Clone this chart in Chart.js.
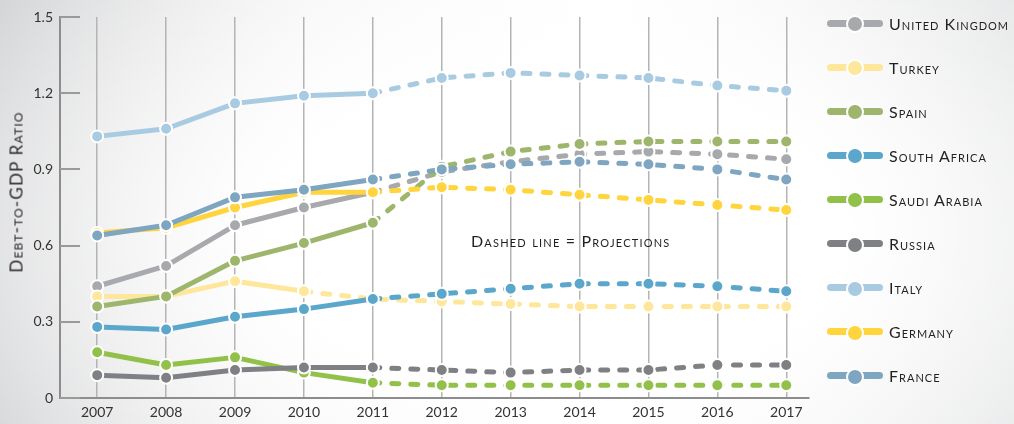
<!DOCTYPE html>
<html>
<head>
<meta charset="utf-8">
<script src="https://cdn.jsdelivr.net/npm/chart.js@4.4.0/dist/chart.umd.min.js"></script>
<style>
  html, body { margin: 0; padding: 0; }
  body {
    width: 1014px; height: 424px; overflow: hidden; position: relative;
    font-family: Lato, "Open Sans", sans-serif;
    background:
      radial-gradient(ellipse 70% 90% at 55% 55%, #ffffff 40%, rgba(255,255,255,0) 100%),
      linear-gradient(90deg, #d4d5d7 0%, #f2f2f2 30%, #ffffff 60%, #e2e3e4 100%);
  }
  #chart { position: absolute; left: 0; top: 0; }
  #legend { position: absolute; left: 827px; top: 0; width: 190px; height: 424px; }
  .item { position: absolute; left: 0; height: 20px; display: flex; align-items: center; white-space: nowrap; }
  .sym { position: relative; width: 56px; height: 20px; flex: none; }
  .sym .bar { position: absolute; left: 0; top: 6.5px; width: 56px; height: 7px; border-radius: 4px; }
  .sym .dot { position: absolute; left: 19px; top: 2px; width: 14px; height: 14px; border-radius: 50%; border: 2px solid #fff; }
  .item .txt { margin-left: 6px; font-size: 16px; font-variant: small-caps; letter-spacing: 1px; color: #231f20; }
  #note { position: absolute; left: 471px; top: 231px; font-size: 16px; font-variant: small-caps; letter-spacing: 1.2px; color: #231f20; white-space: nowrap; }
  #ytitle { position: absolute; left: 16px; top: 192px; transform: translate(-50%, -50%) rotate(-90deg);
            font-size: 17px; font-variant: small-caps; letter-spacing: 1.2px; color: #2b2829; white-space: nowrap; }
</style>
</head>
<body>
<canvas id="chart" width="1014" height="424"></canvas>
<div id="ytitle">Debt-to-GDP Ratio</div>
<div id="note">Dashed line = Projections</div>
<div id="legend"></div>
<script>
'use strict';

// years on the x axis
const years = [2007, 2008, 2009, 2010, 2011, 2012, 2013, 2014, 2015, 2016, 2017];

// debt-to-GDP ratio per country
const unitedKingdom = [0.44, 0.52, 0.68, 0.75, 0.81, 0.89, 0.93, 0.96, 0.97, 0.96, 0.94];
const turkey        = [0.40, 0.40, 0.46, 0.42, 0.39, 0.38, 0.37, 0.36, 0.36, 0.36, 0.36];
const spain         = [0.36, 0.40, 0.54, 0.61, 0.69, 0.91, 0.97, 1.00, 1.01, 1.01, 1.01];
const southAfrica   = [0.28, 0.27, 0.32, 0.35, 0.39, 0.41, 0.43, 0.45, 0.45, 0.44, 0.42];
const saudiArabia   = [0.18, 0.13, 0.16, 0.10, 0.06, 0.05, 0.05, 0.05, 0.05, 0.05, 0.05];
const russia        = [0.09, 0.08, 0.11, 0.12, 0.12, 0.11, 0.10, 0.11, 0.11, 0.13, 0.13];
const italy         = [1.03, 1.06, 1.16, 1.19, 1.20, 1.26, 1.28, 1.27, 1.26, 1.23, 1.21];
const germany       = [0.65, 0.67, 0.75, 0.81, 0.81, 0.83, 0.82, 0.80, 0.78, 0.76, 0.74];
const france        = [0.64, 0.68, 0.79, 0.82, 0.86, 0.90, 0.92, 0.93, 0.92, 0.90, 0.86];

const countries = ['United Kingdom', 'Turkey', 'Spain', 'South Africa', 'Saudi Arabia', 'Russia', 'Italy', 'Germany', 'France'];
const seriesValues = [unitedKingdom, turkey, spain, southAfrica, saudiArabia, russia, italy, germany, france];
// last year of actual data, dashed after that
const lastActual = [2011, 2010, 2011, 2011, 2011, 2011, 2011, 2011, 2011];

// y axis ticks
const yTicks = [0, 0.3, 0.6, 0.9, 1.2, 1.5];

const colors = ['#a7a9ac', '#fee79a', '#9db66c', '#5ba6cb', '#92c14a', '#7f8084', '#a9cbe1', '#ffd43d', '#7ea6c0'];
const fontFamily = 'Lato, "Open Sans", sans-serif';

const datasets = countries.map((name, i) => ({
  label: name,
  data: years.map((yr, j) => ({ x: yr, y: seriesValues[i][j] })),
  borderColor: colors[i],
  backgroundColor: colors[i],
  borderWidth: 5,
  borderCapStyle: 'round',
  borderJoinStyle: 'round',
  pointRadius: 6,
  pointHoverRadius: 6,
  pointBorderWidth: 2,
  pointBorderColor: '#fff',
  pointBackgroundColor: colors[i],
  tension: 0,
  order: countries.length - 1 - i,
  segment: {
    borderDash: ctx => years[ctx.p0DataIndex] >= lastActual[i] ? [7, 12] : undefined
  }
}));

// short tick marks on the inner side of the y axis
const insideTicks = {
  id: 'insideTicks',
  beforeDatasetsDraw(chart) {
    const y = chart.scales.y;
    const ctx = chart.ctx;
    ctx.save();
    ctx.strokeStyle = '#9a9a9a';
    ctx.lineWidth = 2;
    y.ticks.forEach(t => {
      const py = Math.round(y.getPixelForValue(t.value));
      ctx.beginPath();
      ctx.moveTo(y.right, py);
      ctx.lineTo(y.right + 20, py);
      ctx.stroke();
    });
    ctx.restore();
  }
};

new Chart(document.getElementById('chart'), {
  type: 'line',
  data: { datasets },
  plugins: [insideTicks],
  options: {
    responsive: false,
    animation: false,
    layout: { padding: { top: 17, right: 205, left: 0, bottom: 0 } },
    plugins: { legend: { display: false }, tooltip: { enabled: false } },
    scales: {
      x: {
        type: 'linear',
        min: 2006.46,
        max: 2017.33,
        afterFit: s => { s.height = 26; },
        grid: { color: '#b4b4b4', lineWidth: 1.5, drawTicks: false },
        border: { color: '#8d8d8d', width: 2 },
        ticks: {
          stepSize: 1, includeBounds: false, padding: 6,
          color: '#333', font: { family: fontFamily, size: 14 },
          callback: v => String(v)
        }
      },
      y: {
        min: 0,
        max: 1.5,
        afterFit: s => { s.width = 60; },
        afterBuildTicks: s => { s.ticks = yTicks.map(v => ({ value: v })); },
        grid: { display: false, drawTicks: false },
        border: { color: '#8d8d8d', width: 2 },
        ticks: { padding: 7, color: '#333', font: { family: fontFamily, size: 14 } }
      }
    }
  }
});

// legend built from the same names and colours
const legend = document.getElementById('legend');
countries.forEach((name, i) => {
  const item = document.createElement('div');
  item.className = 'item';
  item.style.top = (13 + i * 44.1) + 'px';
  item.innerHTML = `<div class="sym"><div class="bar" style="background:${colors[i]}"></div>` +
    `<div class="dot" style="background:${colors[i]}"></div></div><span class="txt">${name}</span>`;
  legend.appendChild(item);
});
</script>
</body>
</html>
